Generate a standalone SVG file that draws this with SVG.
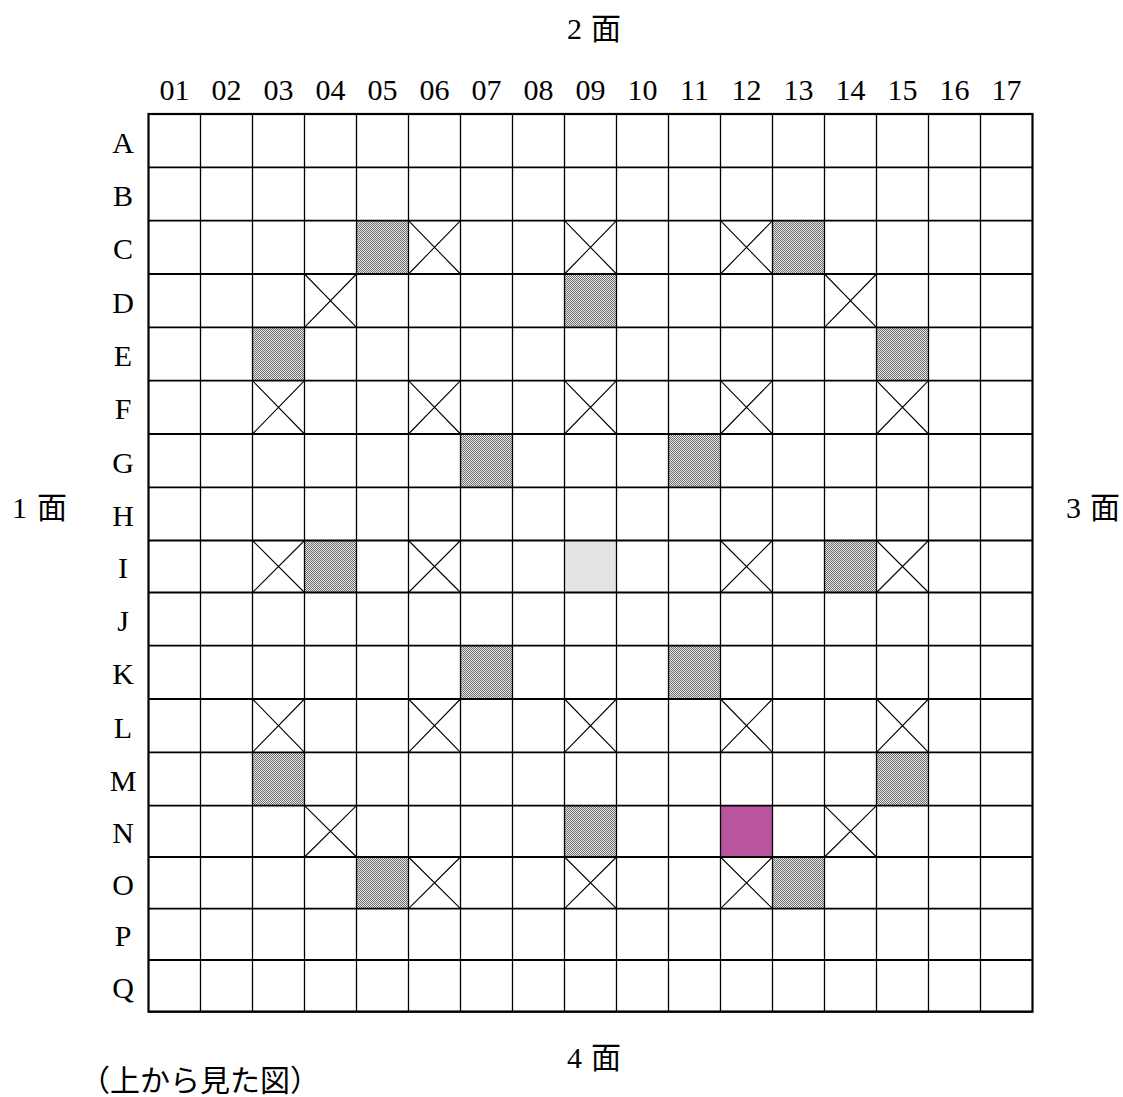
<svg xmlns="http://www.w3.org/2000/svg" width="1123" height="1097" viewBox="0 0 1123 1097">
<style>
text{font-family:"Liberation Serif","Noto Sans CJK JP",serif;fill:#000}
.lbl{font-size:30px;text-anchor:middle}
.face{font-size:30px}
.hl{stroke:#000;stroke-width:1.8;fill:none}
.vl{stroke:#000;stroke-width:1.3;fill:none}
.x{stroke:#000;stroke-width:1.1;fill:none}
.g{fill:url(#dots)}
</style>
<defs>
<pattern id="dots" width="2" height="2" patternUnits="userSpaceOnUse">
<rect width="2" height="2" fill="#e6e6e6"/>
<rect width="1" height="1" fill="#6e6e6e"/>
<rect x="1" y="1" width="1" height="1" fill="#6e6e6e"/>
</pattern>
</defs>
<rect width="1123" height="1097" fill="#fff"/>

<g id="face-labels">
<text class="face" x="567" y="39">2 <tspan x="591">面</tspan></text>
<text class="face" x="12" y="518">1 <tspan x="37">面</tspan></text>
<text class="face" x="1066" y="518">3 <tspan x="1090">面</tspan></text>
<text class="face" x="567" y="1068">4 <tspan x="591">面</tspan></text>
<text class="face" x="80" y="1091">（上から見た図）</text>
</g>

<g id="col-labels" class="lbl">
<text x="174.5" y="100">01</text><text x="226.5" y="100">02</text><text x="278.5" y="100">03</text><text x="330.5" y="100">04</text>
<text x="382.5" y="100">05</text><text x="434.5" y="100">06</text><text x="486.5" y="100">07</text><text x="538.5" y="100">08</text>
<text x="590.5" y="100">09</text><text x="642.5" y="100">10</text><text x="694.5" y="100">11</text><text x="746.5" y="100">12</text>
<text x="798.5" y="100">13</text><text x="850.5" y="100">14</text><text x="902.5" y="100">15</text><text x="954.5" y="100">16</text>
<text x="1006.5" y="100">17</text>
</g>

<g id="row-labels" class="lbl">
<text x="123" y="153">A</text><text x="123" y="206">B</text><text x="123" y="259">C</text><text x="123" y="313">D</text>
<text x="123" y="366">E</text><text x="123" y="419">F</text><text x="123" y="473">G</text><text x="123" y="526">H</text>
<text x="123" y="578">I</text><text x="123" y="631">J</text><text x="123" y="684">K</text><text x="123" y="738">L</text>
<text x="123" y="791">M</text><text x="123" y="843">N</text><text x="123" y="895">O</text><text x="123" y="946">P</text>
<text x="123" y="998">Q</text>
</g>

<g id="filled-cells">
<rect class="g" x="356.5" y="220.7" width="52" height="53.3"/>
<rect class="g" x="772.5" y="220.7" width="52" height="53.3"/>
<rect class="g" x="564.5" y="274" width="52" height="53.3"/>
<rect class="g" x="252.5" y="327.3" width="52" height="53.4"/>
<rect class="g" x="876.5" y="327.3" width="52" height="53.4"/>
<rect class="g" x="460.5" y="434" width="52" height="53.3"/>
<rect class="g" x="668.5" y="434" width="52" height="53.3"/>
<rect class="g" x="304.5" y="540.5" width="52" height="52"/>
<rect class="g" x="824.5" y="540.5" width="52" height="52"/>
<rect class="g" x="460.5" y="645.7" width="52" height="53.3"/>
<rect class="g" x="668.5" y="645.7" width="52" height="53.3"/>
<rect class="g" x="252.5" y="752.3" width="52" height="53.4"/>
<rect class="g" x="876.5" y="752.3" width="52" height="53.4"/>
<rect class="g" x="564.5" y="805.7" width="52" height="51.3"/>
<rect class="g" x="356.5" y="857" width="52" height="51.7"/>
<rect class="g" x="772.5" y="857" width="52" height="51.7"/>
<rect x="564.5" y="540.5" width="52" height="52" fill="#e3e3e3"/>
<rect x="720.5" y="805.7" width="52" height="51.3" fill="#b9559e"/>
</g>

<g id="crossed-cells" class="x">
<path d="M408.5 220.7l52 53.3M460.5 220.7l-52 53.3"/>
<path d="M564.5 220.7l52 53.3M616.5 220.7l-52 53.3"/>
<path d="M720.5 220.7l52 53.3M772.5 220.7l-52 53.3"/>
<path d="M304.5 274l52 53.3M356.5 274l-52 53.3"/>
<path d="M824.5 274l52 53.3M876.5 274l-52 53.3"/>
<path d="M252.5 380.7l52 53.3M304.5 380.7l-52 53.3"/>
<path d="M408.5 380.7l52 53.3M460.5 380.7l-52 53.3"/>
<path d="M564.5 380.7l52 53.3M616.5 380.7l-52 53.3"/>
<path d="M720.5 380.7l52 53.3M772.5 380.7l-52 53.3"/>
<path d="M876.5 380.7l52 53.3M928.5 380.7l-52 53.3"/>
<path d="M252.5 540.5l52 52M304.5 540.5l-52 52"/>
<path d="M408.5 540.5l52 52M460.5 540.5l-52 52"/>
<path d="M720.5 540.5l52 52M772.5 540.5l-52 52"/>
<path d="M876.5 540.5l52 52M928.5 540.5l-52 52"/>
<path d="M252.5 699l52 53.3M304.5 699l-52 53.3"/>
<path d="M408.5 699l52 53.3M460.5 699l-52 53.3"/>
<path d="M564.5 699l52 53.3M616.5 699l-52 53.3"/>
<path d="M720.5 699l52 53.3M772.5 699l-52 53.3"/>
<path d="M876.5 699l52 53.3M928.5 699l-52 53.3"/>
<path d="M304.5 805.7l52 51.3M356.5 805.7l-52 51.3"/>
<path d="M824.5 805.7l52 51.3M876.5 805.7l-52 51.3"/>
<path d="M408.5 857l52 51.7M460.5 857l-52 51.7"/>
<path d="M564.5 857l52 51.7M616.5 857l-52 51.7"/>
<path d="M720.5 857l52 51.7M772.5 857l-52 51.7"/>
</g>

<g id="grid">
<path class="hl" d="M148.5 114H1032.5M148.5 167.3H1032.5M148.5 220.7H1032.5M148.5 274H1032.5M148.5 327.3H1032.5M148.5 380.7H1032.5M148.5 434H1032.5M148.5 487.3H1032.5M148.5 540.5H1032.5M148.5 592.5H1032.5M148.5 645.7H1032.5M148.5 699H1032.5M148.5 752.3H1032.5M148.5 805.7H1032.5M148.5 857H1032.5M148.5 908.7H1032.5M148.5 960H1032.5M148.5 1011.7H1032.5"/>
<path class="vl" d="M200.5 114V1011.7M252.5 114V1011.7M304.5 114V1011.7M356.5 114V1011.7M408.5 114V1011.7M460.5 114V1011.7M512.5 114V1011.7M564.5 114V1011.7M616.5 114V1011.7M668.5 114V1011.7M720.5 114V1011.7M772.5 114V1011.7M824.5 114V1011.7M876.5 114V1011.7M928.5 114V1011.7M980.5 114V1011.7"/>
<rect x="148.5" y="114" width="884" height="897.7" fill="none" stroke="#000" stroke-width="2.2"/>
</g>
</svg>
